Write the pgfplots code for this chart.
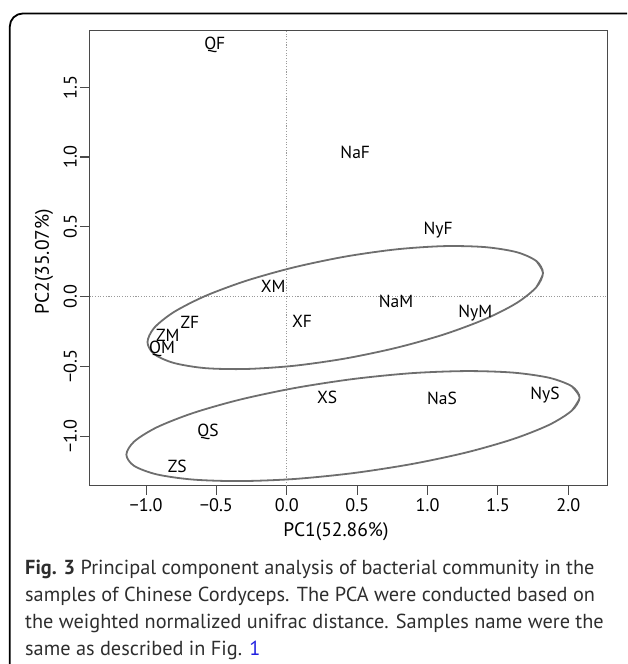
\documentclass[border=0pt]{standalone}
\usepackage{pgfplots}
\pgfplotsset{compat=1.18}
\usepackage{fontspec}
\setmainfont{PT Sans}
\definecolor{axgray}{HTML}{4A4A4A}
\definecolor{elgray}{HTML}{6E6E6E}
\definecolor{dotgray}{HTML}{9A9A9A}
\definecolor{capgray}{HTML}{2E2E2E}
\definecolor{linkblue}{HTML}{2020E0}
\pgfplotstableread{
label x y
QF -0.512 1.803
NaF 0.486 1.032
NyF 1.075 0.478
XM -0.097 0.072
NaM 0.776 -0.036
NyM 1.339 -0.119
XF 0.108 -0.179
ZF -0.688 -0.186
ZM -0.845 -0.274
QM -0.887 -0.377
XS 0.287 -0.723
NaS 1.103 -0.728
NyS 1.834 -0.704
QS -0.560 -0.967
ZS -0.779 -1.218
}\samples
\begin{document}
\begin{tikzpicture}
\path[use as bounding box] (0pt,0pt) rectangle (627pt,664pt);
\begin{scope}
\clip (0pt,0pt) rectangle (627pt,664pt);
\draw[line width=1.8pt, black, rounded corners=13pt] (9.8pt,-30pt) rectangle (660pt,650.5pt);
\end{scope}
\begin{axis}[
  at={(89.5pt,178.3pt)}, anchor=south west, scale only axis,
  width=517.8pt, height=455pt,
  xmin=-1.402, xmax=2.277, ymin=-1.354, ymax=1.905,
  axis line style={axgray, line width=1.1pt},
  tick style={axgray, line width=1.1pt},
  tick align=outside, major tick length=9pt, tick pos=left,
  xtick={-1,-0.5,0,0.5,1,1.5,2},
  xticklabels={−1.0,−0.5,0.0,0.5,1.0,1.5,2.0},
  ytick={-1,-0.5,0,0.5,1,1.5},
  yticklabels={−1.0,−0.5,0.0,0.5,1.0,1.5},
  ticklabel style={font=\fontsize{18.2}{20}\selectfont, text=black},
  yticklabel style={rotate=90, anchor=south},
  clip=false,
]
\addplot[dotgray, line width=0.9pt, dash pattern=on 1.1pt off 1.6pt] coordinates {(0,-1.354) (0,1.905)};
\addplot[dotgray, line width=0.9pt, dash pattern=on 1.1pt off 1.6pt] coordinates {(-1.402,0) (2.277,0)};
\addplot[elgray, line width=1.8pt, smooth] coordinates {
(1.772,0.067) (1.820,0.170) (1.772,0.256) (1.632,0.319) (1.408,0.355) (1.118,0.362)
(0.779,0.339) (0.415,0.287) (0.051,0.210) (-0.288,0.114) (-0.579,0.005)
(-0.802,-0.110) (-0.942,-0.223) (-0.990,-0.326) (-0.942,-0.412) (-0.802,-0.475)
(-0.579,-0.512) (-0.288,-0.518) (0.051,-0.495) (0.415,-0.443) (0.779,-0.366)
(1.118,-0.270) (1.408,-0.161) (1.632,-0.046) (1.772,0.067) (1.820,0.170) (1.772,0.256)};
\addplot[elgray, line width=1.8pt, smooth] coordinates {
(2.025,-0.816) (2.080,-0.722) (2.025,-0.642) (1.864,-0.581) (1.608,-0.544) (1.275,-0.533)
(0.887,-0.548) (0.470,-0.590) (0.053,-0.655) (-0.335,-0.738) (-0.668,-0.834)
(-0.924,-0.936) (-1.085,-1.038) (-1.140,-1.132) (-1.085,-1.212) (-0.924,-1.273)
(-0.668,-1.310) (-0.335,-1.321) (0.053,-1.306) (0.470,-1.264) (0.887,-1.199)
(1.275,-1.116) (1.608,-1.020) (1.864,-0.918) (2.025,-0.816) (2.080,-0.722) (2.025,-0.642)};
\addplot[only marks, mark=none, nodes near coords, point meta=explicit symbolic,
  nodes near coords style={anchor=center, font=\fontsize{17.5}{20}\selectfont, text=black, inner sep=0pt}]
  table[x=x, y=y, meta=label] {\samples};
\end{axis}
\node[font=\fontsize{19.5}{22}\selectfont] at (336pt,132pt) {PC1(52.86\%)};
\node[font=\fontsize{19.5}{22}\selectfont, rotate=90] at (44pt,402.3pt) {PC2(35.07\%)};
\begin{scope}[every node/.style={anchor=base west, inner sep=0pt, text=capgray, font=\fontsize{20.3}{24}\selectfont}]
\node at (25pt,89pt) {{\bfseries Fig. 3} Principal component analysis of bacterial community in the};
\node at (25pt,62.3pt) {samples of Chinese Cordyceps. The PCA were conducted based on};
\node at (25pt,35.7pt) {the weighted normalized unifrac distance. Samples name were the};
\node at (25pt,9pt) {same as described in Fig. {\color{linkblue}1}};
\end{scope}
\end{tikzpicture}
\end{document}
